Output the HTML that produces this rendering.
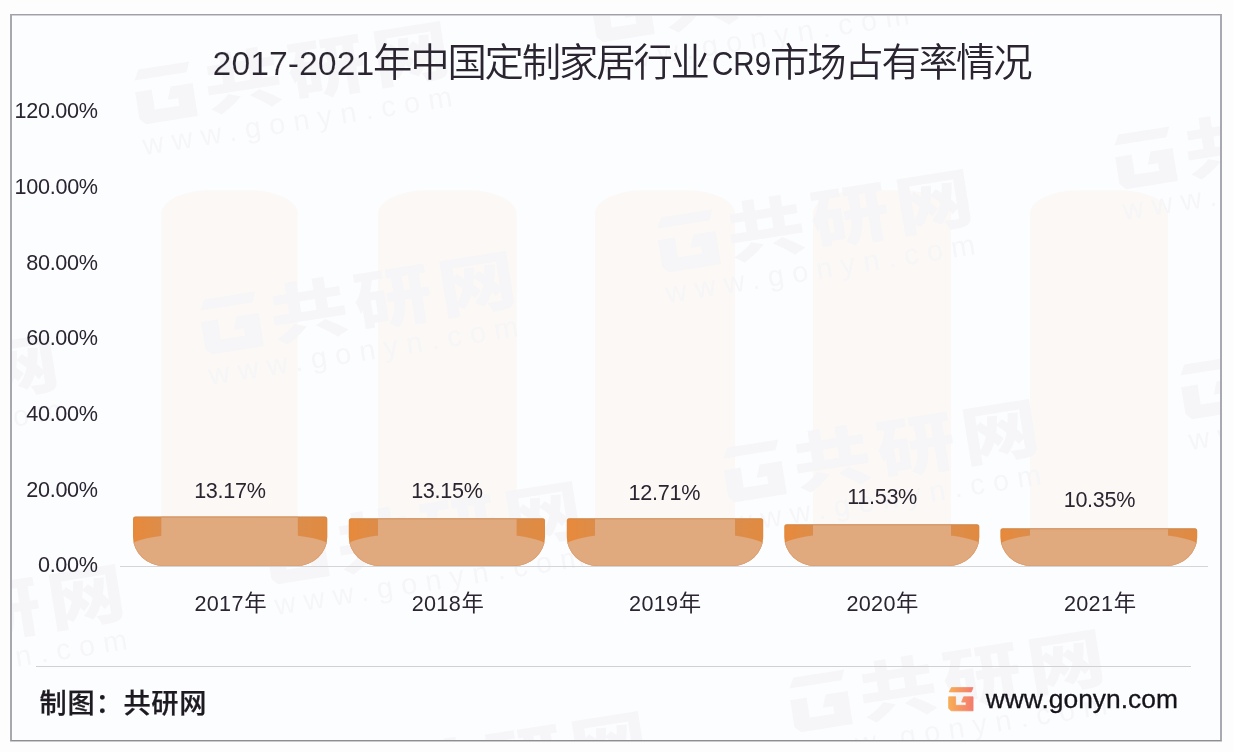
<!DOCTYPE html>
<html lang="zh-CN">
<head>
<meta charset="utf-8">
<title>2017-2021年中国定制家居行业CR9市场占有率情况</title>
<style>
html,body{margin:0;padding:0}
body{position:relative;width:1234px;height:752px;overflow:hidden;background:#fdfdfd;color:#2a2530;font-family:"Liberation Sans","Noto Sans CJK SC",sans-serif}
#frame{position:absolute;left:10px;top:14px;width:1212px;height:727px;box-sizing:border-box;border-style:solid;border-width:1px 2px;border-color:#a0a1a5 #a9a9b2 #8e8e92 #a8a8af;box-shadow:inset 0 1px 0 #d2d2d6,0 1px 0 #cbcbce;background:#fcfdff}
#wms{position:absolute;left:12px;top:16px;width:1208px;height:724px;overflow:hidden;opacity:.8}
.wm{position:absolute;width:340px;height:140px;margin:-16px 0 0 -12px;transform:rotate(-9deg);transform-origin:30px 70px;color:#f5f5f8;white-space:nowrap}
.wl{position:absolute;left:0;top:38px;fill:#f5f5f8}
.wc{position:absolute;left:70px;top:22px;font-size:65px;line-height:96px;font-weight:900;letter-spacing:6px;transform:scaleX(1.2);transform-origin:0 50%}
.wu{position:absolute;left:0;top:98px;font-size:29px;line-height:36px;letter-spacing:8.5px}
#plot,#plot2{position:absolute;left:0;top:0}
.t{position:absolute;margin:0;white-space:nowrap;line-height:1.2;font-weight:normal}
.tt.la{font-size:33.8px;-webkit-text-stroke:.2px #fcfdff}
.tt.cj{font-size:38.4px;letter-spacing:-2.1px;font-weight:350;transform:scaleX(1.025);transform-origin:0 50%}
.tt.cr{font-size:33.6px;transform:scaleX(.88);transform-origin:0 50%;-webkit-text-stroke:0}
.lab{font-size:21.6px;letter-spacing:-.3px}
.xl{letter-spacing:.3px}
.xl .cj{font-size:22.4px;letter-spacing:0;margin-left:.4px}
#rule{position:absolute;left:36px;top:666px;width:1155px;height:1px;background:#d0d1d6}
.src{font-size:27.2px;letter-spacing:.8px;font-weight:500;color:#1d1a22;-webkit-text-stroke:.25px #1d1a22}
.url{font-size:26.4px;color:#16141a;-webkit-text-stroke:.3px #16141a}
#logo{position:absolute;left:947.6px;top:686.9px}
</style>
</head>
<body>
<div id="frame"></div>
<svg id="plot" width="1234" height="752" viewBox="0 0 1234 752">
<defs>
<linearGradient id="gLogo" x1="0" y1="0" x2="1" y2="0"><stop offset="0" stop-color="#f7ae56"/><stop offset="1" stop-color="#f47b6f"/></linearGradient>
<clipPath id="cb0"><path d="M135.5,516.4 H324.8 Q327.3,516.4 327.3,518.9 V537.0 A31.0,29.0 0 0 1 296.3,566.0 H164.0 A31.0,29.0 0 0 1 133.0,537.0 V518.9 Q133.0,516.4 135.5,516.4 Z"/></clipPath>
<clipPath id="cb1"><path d="M351.3,518.3 H542.5 Q545.0,518.3 545.0,520.8 V537.0 A31.0,29.0 0 0 1 514.0,566.0 H379.8 A31.0,29.0 0 0 1 348.8,537.0 V520.8 Q348.8,518.3 351.3,518.3 Z"/></clipPath>
<clipPath id="cb2"><path d="M569.3,518.2 H760.7 Q763.2,518.2 763.2,520.7 V537.0 A31.0,29.0 0 0 1 732.2,566.0 H597.8 A31.0,29.0 0 0 1 566.8,537.0 V520.7 Q566.8,518.2 569.3,518.2 Z"/></clipPath>
<clipPath id="cb3"><path d="M786.8,524.3 H976.8 Q979.3,524.3 979.3,526.8 V537.0 A31.0,29.0 0 0 1 948.3,566.0 H815.3 A31.0,29.0 0 0 1 784.3,537.0 V526.8 Q784.3,524.3 786.8,524.3 Z"/></clipPath>
<clipPath id="cb4"><path d="M1002.9,528.3 H1194.7 Q1197.2,528.3 1197.2,530.8 V537.0 A31.0,29.0 0 0 1 1166.2,566.0 H1031.4 A31.0,29.0 0 0 1 1000.4,537.0 V530.8 Q1000.4,528.3 1002.9,528.3 Z"/></clipPath>
<linearGradient id="gd0" gradientUnits="userSpaceOnUse" x1="133.0" y1="0" x2="327.3" y2="0"><stop offset="0" stop-color="#e8893a"/><stop offset="0.15" stop-color="#dc8d4b"/><stop offset="0.85" stop-color="#dc8d4b"/><stop offset="1" stop-color="#e18a40"/></linearGradient>
<linearGradient id="gd1" gradientUnits="userSpaceOnUse" x1="348.8" y1="0" x2="545.0" y2="0"><stop offset="0" stop-color="#e8893a"/><stop offset="0.15" stop-color="#dc8d4b"/><stop offset="0.85" stop-color="#dc8d4b"/><stop offset="1" stop-color="#e18a40"/></linearGradient>
<linearGradient id="gd2" gradientUnits="userSpaceOnUse" x1="566.8" y1="0" x2="763.2" y2="0"><stop offset="0" stop-color="#e8893a"/><stop offset="0.15" stop-color="#dc8d4b"/><stop offset="0.85" stop-color="#dc8d4b"/><stop offset="1" stop-color="#e18a40"/></linearGradient>
<linearGradient id="gd3" gradientUnits="userSpaceOnUse" x1="784.3" y1="0" x2="979.3" y2="0"><stop offset="0" stop-color="#e8893a"/><stop offset="0.15" stop-color="#dc8d4b"/><stop offset="0.85" stop-color="#dc8d4b"/><stop offset="1" stop-color="#e18a40"/></linearGradient>
<linearGradient id="gd4" gradientUnits="userSpaceOnUse" x1="1000.4" y1="0" x2="1197.2" y2="0"><stop offset="0" stop-color="#e8893a"/><stop offset="0.15" stop-color="#dc8d4b"/><stop offset="0.85" stop-color="#dc8d4b"/><stop offset="1" stop-color="#e18a40"/></linearGradient>
</defs>
<path d="M161.3,566.0 V214.3 A47.0,24.0 0 0 1 208.3,190.3 H250.8 A47.0,24.0 0 0 1 297.8,214.3 V566.0 Z" fill="#fbf8f5"/>
<path d="M378.0,566.0 V214.3 A47.0,24.0 0 0 1 425.0,190.3 H469.6 A47.0,24.0 0 0 1 516.6,214.3 V566.0 Z" fill="#fbf8f5"/>
<path d="M595.0,566.0 V214.3 A47.0,24.0 0 0 1 642.0,190.3 H688.0 A47.0,24.0 0 0 1 735.0,214.3 V566.0 Z" fill="#fbf8f5"/>
<path d="M813.0,566.0 V214.3 A47.0,24.0 0 0 1 860.0,190.3 H904.0 A47.0,24.0 0 0 1 951.0,214.3 V566.0 Z" fill="#fbf8f5"/>
<path d="M1030.0,566.0 V214.3 A47.0,24.0 0 0 1 1077.0,190.3 H1121.0 A47.0,24.0 0 0 1 1168.0,214.3 V566.0 Z" fill="#fbf8f5"/>
</svg>
<div id="wms">
<div class="wm" style="left:-322.0px;top:107.5px"><svg class="wl" width="62" height="62" viewBox="0 0 26 25"><path d="M3.2,0.6 H24.8 L23,4.9 H0.9 Z M0.4,9.8 H7.4 V18.3 H17.8 V15.1 H13.4 L15.4,9.8 H24.8 V23.8 H2.8 L0.4,21.2 Z"/></svg><span class="wc">共研网</span><span class="wu">www.gonyn.com</span></div>
<div class="wm" style="left:-256.0px;top:337.5px"><svg class="wl" width="62" height="62" viewBox="0 0 26 25"><path d="M3.2,0.6 H24.8 L23,4.9 H0.9 Z M0.4,9.8 H7.4 V18.3 H17.8 V15.1 H13.4 L15.4,9.8 H24.8 V23.8 H2.8 L0.4,21.2 Z"/></svg><span class="wc">共研网</span><span class="wu">www.gonyn.com</span></div>
<div class="wm" style="left:-190.0px;top:567.5px"><svg class="wl" width="62" height="62" viewBox="0 0 26 25"><path d="M3.2,0.6 H24.8 L23,4.9 H0.9 Z M0.4,9.8 H7.4 V18.3 H17.8 V15.1 H13.4 L15.4,9.8 H24.8 V23.8 H2.8 L0.4,21.2 Z"/></svg><span class="wc">共研网</span><span class="wu">www.gonyn.com</span></div>
<div class="wm" style="left:135.0px;top:25.0px"><svg class="wl" width="62" height="62" viewBox="0 0 26 25"><path d="M3.2,0.6 H24.8 L23,4.9 H0.9 Z M0.4,9.8 H7.4 V18.3 H17.8 V15.1 H13.4 L15.4,9.8 H24.8 V23.8 H2.8 L0.4,21.2 Z"/></svg><span class="wc">共研网</span><span class="wu">www.gonyn.com</span></div>
<div class="wm" style="left:201.0px;top:255.0px"><svg class="wl" width="62" height="62" viewBox="0 0 26 25"><path d="M3.2,0.6 H24.8 L23,4.9 H0.9 Z M0.4,9.8 H7.4 V18.3 H17.8 V15.1 H13.4 L15.4,9.8 H24.8 V23.8 H2.8 L0.4,21.2 Z"/></svg><span class="wc">共研网</span><span class="wu">www.gonyn.com</span></div>
<div class="wm" style="left:267.0px;top:485.0px"><svg class="wl" width="62" height="62" viewBox="0 0 26 25"><path d="M3.2,0.6 H24.8 L23,4.9 H0.9 Z M0.4,9.8 H7.4 V18.3 H17.8 V15.1 H13.4 L15.4,9.8 H24.8 V23.8 H2.8 L0.4,21.2 Z"/></svg><span class="wc">共研网</span><span class="wu">www.gonyn.com</span></div>
<div class="wm" style="left:333.0px;top:715.0px"><svg class="wl" width="62" height="62" viewBox="0 0 26 25"><path d="M3.2,0.6 H24.8 L23,4.9 H0.9 Z M0.4,9.8 H7.4 V18.3 H17.8 V15.1 H13.4 L15.4,9.8 H24.8 V23.8 H2.8 L0.4,21.2 Z"/></svg><span class="wc">共研网</span><span class="wu">www.gonyn.com</span></div>
<div class="wm" style="left:592.0px;top:-57.5px"><svg class="wl" width="62" height="62" viewBox="0 0 26 25"><path d="M3.2,0.6 H24.8 L23,4.9 H0.9 Z M0.4,9.8 H7.4 V18.3 H17.8 V15.1 H13.4 L15.4,9.8 H24.8 V23.8 H2.8 L0.4,21.2 Z"/></svg><span class="wc">共研网</span><span class="wu">www.gonyn.com</span></div>
<div class="wm" style="left:658.0px;top:172.5px"><svg class="wl" width="62" height="62" viewBox="0 0 26 25"><path d="M3.2,0.6 H24.8 L23,4.9 H0.9 Z M0.4,9.8 H7.4 V18.3 H17.8 V15.1 H13.4 L15.4,9.8 H24.8 V23.8 H2.8 L0.4,21.2 Z"/></svg><span class="wc">共研网</span><span class="wu">www.gonyn.com</span></div>
<div class="wm" style="left:724.0px;top:402.5px"><svg class="wl" width="62" height="62" viewBox="0 0 26 25"><path d="M3.2,0.6 H24.8 L23,4.9 H0.9 Z M0.4,9.8 H7.4 V18.3 H17.8 V15.1 H13.4 L15.4,9.8 H24.8 V23.8 H2.8 L0.4,21.2 Z"/></svg><span class="wc">共研网</span><span class="wu">www.gonyn.com</span></div>
<div class="wm" style="left:790.0px;top:632.5px"><svg class="wl" width="62" height="62" viewBox="0 0 26 25"><path d="M3.2,0.6 H24.8 L23,4.9 H0.9 Z M0.4,9.8 H7.4 V18.3 H17.8 V15.1 H13.4 L15.4,9.8 H24.8 V23.8 H2.8 L0.4,21.2 Z"/></svg><span class="wc">共研网</span><span class="wu">www.gonyn.com</span></div>
<div class="wm" style="left:1115.0px;top:90.0px"><svg class="wl" width="62" height="62" viewBox="0 0 26 25"><path d="M3.2,0.6 H24.8 L23,4.9 H0.9 Z M0.4,9.8 H7.4 V18.3 H17.8 V15.1 H13.4 L15.4,9.8 H24.8 V23.8 H2.8 L0.4,21.2 Z"/></svg><span class="wc">共研网</span><span class="wu">www.gonyn.com</span></div>
<div class="wm" style="left:1181.0px;top:320.0px"><svg class="wl" width="62" height="62" viewBox="0 0 26 25"><path d="M3.2,0.6 H24.8 L23,4.9 H0.9 Z M0.4,9.8 H7.4 V18.3 H17.8 V15.1 H13.4 L15.4,9.8 H24.8 V23.8 H2.8 L0.4,21.2 Z"/></svg><span class="wc">共研网</span><span class="wu">www.gonyn.com</span></div>
</div>
<svg id="plot2" width="1234" height="752" viewBox="0 0 1234 752">
<rect x="120" y="566" width="1088" height="1" fill="#d3d5d9"/>
<g clip-path="url(#cb0)">
<rect x="132.0" y="515.4" width="196.3" height="51.6" fill="url(#gd0)"/>
<path d="M161.3,514.4 H297.8 V568.0 H161.3 Z M130.2,546.0 A100.0,14.5 0 0 1 330.1,546.0 V568.0 H130.2 Z" fill="#e1a97e"/>
<path d="M135.5,516.4 H324.8 Q327.3,516.4 327.3,518.9 V537.0 A31.0,29.0 0 0 1 296.3,566.0 H164.0 A31.0,29.0 0 0 1 133.0,537.0 V518.9 Q133.0,516.4 135.5,516.4 Z" fill="none" stroke="#c48a55" stroke-opacity=".22" stroke-width="1.6"/>
<rect x="133.0" y="516.6" width="194.3" height="1.1" fill="#c08a58" fill-opacity=".4"/>
</g>
<g clip-path="url(#cb1)">
<rect x="347.8" y="517.3" width="198.2" height="49.7" fill="url(#gd1)"/>
<path d="M378.0,516.3 H516.6 V568.0 H378.0 Z M346.9,546.0 A100.0,14.5 0 0 1 546.9,546.0 V568.0 H346.9 Z" fill="#e1a97e"/>
<path d="M351.3,518.3 H542.5 Q545.0,518.3 545.0,520.8 V537.0 A31.0,29.0 0 0 1 514.0,566.0 H379.8 A31.0,29.0 0 0 1 348.8,537.0 V520.8 Q348.8,518.3 351.3,518.3 Z" fill="none" stroke="#c48a55" stroke-opacity=".22" stroke-width="1.6"/>
<rect x="348.8" y="518.5" width="196.2" height="1.1" fill="#c08a58" fill-opacity=".4"/>
</g>
<g clip-path="url(#cb2)">
<rect x="565.8" y="517.2" width="198.4" height="49.8" fill="url(#gd2)"/>
<path d="M595.0,516.2 H735.0 V568.0 H595.0 Z M565.0,546.0 A100.0,14.5 0 0 1 765.0,546.0 V568.0 H565.0 Z" fill="#e1a97e"/>
<path d="M569.3,518.2 H760.7 Q763.2,518.2 763.2,520.7 V537.0 A31.0,29.0 0 0 1 732.2,566.0 H597.8 A31.0,29.0 0 0 1 566.8,537.0 V520.7 Q566.8,518.2 569.3,518.2 Z" fill="none" stroke="#c48a55" stroke-opacity=".22" stroke-width="1.6"/>
<rect x="566.8" y="518.4" width="196.4" height="1.1" fill="#c08a58" fill-opacity=".4"/>
</g>
<g clip-path="url(#cb3)">
<rect x="783.3" y="523.3" width="197.0" height="43.7" fill="url(#gd3)"/>
<path d="M813.0,522.3 H951.0 V568.0 H813.0 Z M781.8,546.0 A100.0,14.5 0 0 1 981.8,546.0 V568.0 H781.8 Z" fill="#e1a97e"/>
<path d="M786.8,524.3 H976.8 Q979.3,524.3 979.3,526.8 V537.0 A31.0,29.0 0 0 1 948.3,566.0 H815.3 A31.0,29.0 0 0 1 784.3,537.0 V526.8 Q784.3,524.3 786.8,524.3 Z" fill="none" stroke="#c48a55" stroke-opacity=".22" stroke-width="1.6"/>
<rect x="784.3" y="524.5" width="195.0" height="1.1" fill="#c08a58" fill-opacity=".4"/>
</g>
<g clip-path="url(#cb4)">
<rect x="999.4" y="527.3" width="198.8" height="39.7" fill="url(#gd4)"/>
<path d="M1030.0,526.3 H1168.0 V568.0 H1030.0 Z M998.8,546.0 A100.0,14.5 0 0 1 1198.8,546.0 V568.0 H998.8 Z" fill="#e1a97e"/>
<path d="M1002.9,528.3 H1194.7 Q1197.2,528.3 1197.2,530.8 V537.0 A31.0,29.0 0 0 1 1166.2,566.0 H1031.4 A31.0,29.0 0 0 1 1000.4,537.0 V530.8 Q1000.4,528.3 1002.9,528.3 Z" fill="none" stroke="#c48a55" stroke-opacity=".22" stroke-width="1.6"/>
<rect x="1000.4" y="528.5" width="196.8" height="1.1" fill="#c08a58" fill-opacity=".4"/>
</g>
</svg>
<h1 class="t" style="left:0;top:0;width:0;height:0;overflow:visible;font-size:0">
<span id="t1" class="t tt la" style="left:212.60px;top:43.00px">2017-2021</span><span id="t2" class="t tt cj" style="left:373.45px;top:40.00px">年中国定制家居行业</span><span id="t3" class="t tt la cr" style="left:711.92px;top:44.00px">CR9</span><span id="t4" class="t tt cj" style="left:769.84px;top:40.00px">市场占有率情况</span>
</h1>
<div id="y0" class="t lab" style="left:14.50px;top:98.00px">120.00%</div>
<div id="y1" class="t lab" style="left:14.60px;top:174.00px">100.00%</div>
<div id="y2" class="t lab" style="left:26.25px;top:250.00px">80.00%</div>
<div id="y3" class="t lab" style="left:26.25px;top:325.00px">60.00%</div>
<div id="y4" class="t lab" style="left:26.25px;top:401.00px">40.00%</div>
<div id="y5" class="t lab" style="left:26.30px;top:477.00px">20.00%</div>
<div id="y6" class="t lab" style="left:37.95px;top:552.00px">0.00%</div>
<div id="d0" class="t lab" style="left:194.15px;top:478.00px">13.17%</div>
<div id="d1" class="t lab" style="left:411.15px;top:478.00px">13.15%</div>
<div id="d2" class="t lab" style="left:628.60px;top:480.00px">12.71%</div>
<div id="d3" class="t lab" style="left:847.18px;top:484.00px">11.53%</div>
<div id="d4" class="t lab" style="left:1063.68px;top:487.00px">10.35%</div>
<div id="x0" class="t lab xl" style="left:194.50px;top:591.00px">2017<span class="cj">年</span></div>
<div id="x1" class="t lab xl" style="left:411.75px;top:591.00px">2018<span class="cj">年</span></div>
<div id="x2" class="t lab xl" style="left:629.10px;top:591.00px">2019<span class="cj">年</span></div>
<div id="x3" class="t lab xl" style="left:846.48px;top:591.00px">2020<span class="cj">年</span></div>
<div id="x4" class="t lab xl" style="left:1064.00px;top:591.00px">2021<span class="cj">年</span></div>
<div id="src" class="t src" style="left:39.43px;top:688.00px">制图：共研网</div>
<div id="url" class="t url" style="left:985.75px;top:684.00px">www.gonyn.com</div>
<div id="rule"></div>
<svg id="logo" width="26.5" height="25" viewBox="0 0 26 25"><path d="M3.2,0.6 H24.8 L23,4.9 H0.9 Z M0.4,9.8 H7.4 V18.3 H17.8 V15.1 H13.4 L15.4,9.8 H24.8 V23.8 H2.8 L0.4,21.2 Z" fill="url(#gLogo)" stroke="url(#gLogo)" stroke-width=".8" stroke-linejoin="round"/></svg>
</body>
</html>
